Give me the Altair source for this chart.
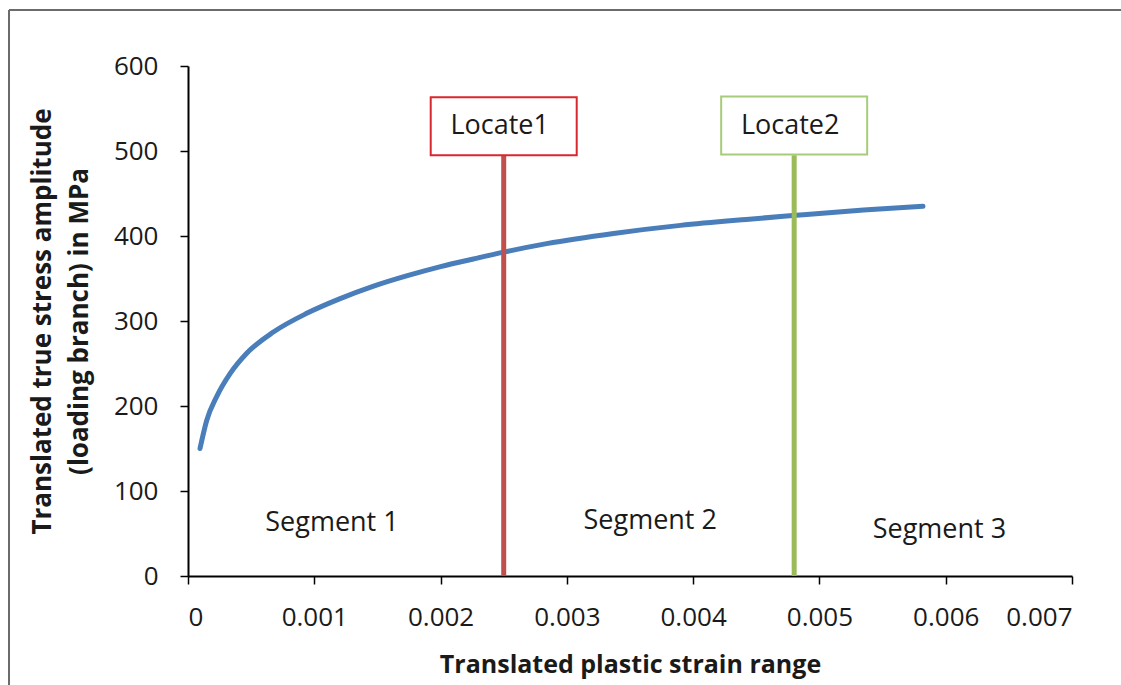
import altair as alt
import pandas as pd

# Loading-branch curve: translated plastic strain vs translated true stress amplitude
strain = [0.000095, 0.000148, 0.000227, 0.000333, 0.000465, 0.000676, 0.00094,
          0.0012, 0.00147, 0.00173, 0.002, 0.00226, 0.0025, 0.00284, 0.00337,
          0.0039, 0.00442, 0.00479, 0.00535, 0.00582]
stress = [150, 183, 211, 238, 262, 287, 309, 326, 341, 353, 364, 373, 381, 391,
          403, 412.5, 419.5, 424, 430.5, 435]

# Segment boundaries
locate_names = ["Locate1", "Locate2"]
locate_strain = [0.0025, 0.0048]
locate_top = [495, 495]
locate_label_y = [529, 530]
locate_line_colors = ["#C0504D", "#9BBB59"]
locate_box_colors = ["#D9272E", "#A6CC79"]

# Segment names
segment_names = ["Segment 1", "Segment 2", "Segment 3"]
segment_x = [0.00114, 0.00366, 0.00595]
segment_y = [62, 65, 54]

FONT = "Open Sans"
TEXT = "#1a1a1a"

curve_df = pd.DataFrame({"strain": strain, "stress": stress})
loc_df = pd.DataFrame({
    "name": locate_names, "x": locate_strain, "top": locate_top,
    "ly": locate_label_y, "line": locate_line_colors, "box": locate_box_colors,
    "zero": [0, 0],
})
seg_df = pd.DataFrame({"name": segment_names, "x": segment_x, "y": segment_y})

x_scale = alt.Scale(domain=[0, 0.007], nice=False, zero=False)
y_scale = alt.Scale(domain=[0, 600], nice=False)

x_axis = alt.Axis(
    title="Translated plastic strain range",
    values=[0, 0.001, 0.002, 0.003, 0.004, 0.005, 0.006, 0.007],
    labelExpr="datum.value == 0 ? '0' : format(datum.value, '.3f')",
    grid=False, domainColor="#000000", domainWidth=2, tickColor="#000000",
    tickWidth=1.5, tickSize=8, labelPadding=20, labelFontSize=26,
    labelFont=FONT, labelColor=TEXT, titleFont=FONT, titleFontSize=25,
    titleFontWeight="bold", titleColor=TEXT, titlePadding=22,
)
y_axis = alt.Axis(
    title=["Translated true stress amplitude", "(loading branch) in MPa"],
    values=[0, 100, 200, 300, 400, 500, 600],
    grid=False, domainColor="#000000", domainWidth=2, tickColor="#000000",
    tickWidth=1.5, tickSize=8, labelPadding=22, labelFontSize=26,
    labelFont=FONT, labelColor=TEXT, titleFont=FONT, titleFontSize=26,
    titleFontWeight="bold", titleColor=TEXT, titlePadding=21, titleLineHeight=37,
)

base = alt.Chart(curve_df)

curve = base.mark_line(color="#4A7EBB", strokeWidth=5, strokeCap="round",
                       interpolate="monotone").encode(
    x=alt.X("strain:Q", scale=x_scale, axis=x_axis),
    y=alt.Y("stress:Q", scale=y_scale, axis=y_axis),
)

loc_lines = alt.Chart(loc_df).mark_rule(strokeWidth=5).encode(
    x=alt.X("x:Q", scale=x_scale),
    y=alt.Y("zero:Q", scale=y_scale),
    y2="top:Q",
    color=alt.Color("line:N", scale=None),
)

loc_boxes = alt.Chart(loc_df).mark_rect(width=146, height=58, fill="white",
                                        strokeWidth=2).encode(
    x=alt.X("x:Q", scale=x_scale),
    y=alt.Y("ly:Q", scale=y_scale),
    stroke=alt.Stroke("box:N", scale=None),
)

loc_text = alt.Chart(loc_df).mark_text(font=FONT, fontSize=27, color=TEXT,
                                       dx=-4).encode(
    x=alt.X("x:Q", scale=x_scale),
    y=alt.Y("ly:Q", scale=y_scale),
    text="name:N",
)

seg_text = alt.Chart(seg_df).mark_text(font=FONT, fontSize=27, color=TEXT).encode(
    x=alt.X("x:Q", scale=x_scale),
    y=alt.Y("y:Q", scale=y_scale),
    text="name:N",
)

# Outer frame around the figure (top and left edges)
frame_top = alt.Chart(curve_df).mark_rule(color="#6b6b6b", strokeWidth=2).encode(
    x=alt.value(-179), x2=alt.value(940), y=alt.value(-56))
frame_left = alt.Chart(curve_df).mark_rule(color="#6b6b6b", strokeWidth=2).encode(
    x=alt.value(-179), y=alt.value(-56), y2=alt.value(640))

chart = alt.layer(
    frame_top, frame_left, curve, loc_lines, loc_boxes, loc_text, seg_text
).properties(
    width=884, height=510,
    padding={"left": 188, "top": 66, "right": 49, "bottom": 109},
    autosize=alt.AutoSizeParams(type="none"),
    background="white",
).configure_view(stroke=None)

chart.save("out.html", embed_options={"renderer": "svg", "actions": False})
